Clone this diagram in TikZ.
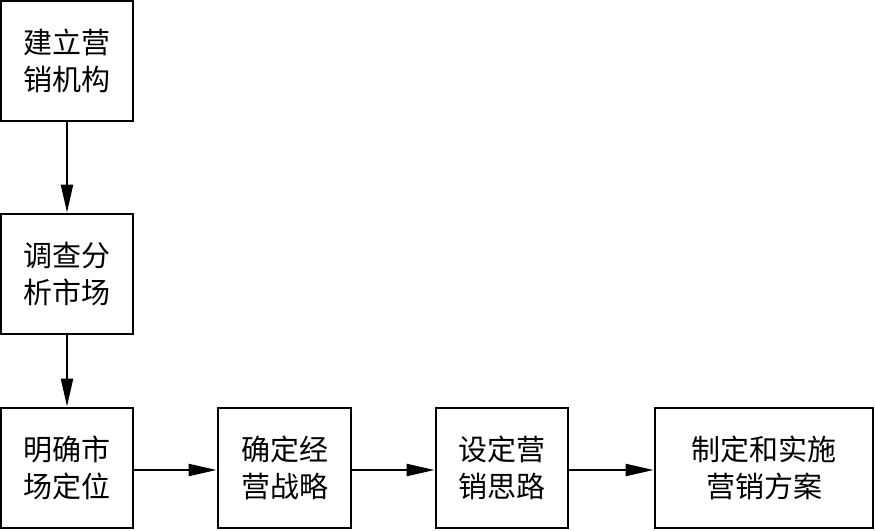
\documentclass[tikz,border=0pt]{standalone}
\usepackage{fontspec}
\newfontfamily\cjk{Noto Sans CJK SC}
\usetikzlibrary{arrows.meta}
\begin{document}
\begin{tikzpicture}[x=1pt,y=-1pt,
  box/.style={draw,line width=2.8pt,align=center,inner sep=0pt,
    font=\cjk\fontsize{29pt}{37pt}\selectfont},
  arr/.style={line width=2.2pt,-{Triangle[length=28pt,width=12pt]}}]
\useasboundingbox (0,0) rectangle (875,530);
\node[box,minimum width=132pt,minimum height=120pt] (a) at (67,61) {建立营\\销机构};
\node[box,minimum width=132pt,minimum height=120pt] (b) at (67,274) {调查分\\析市场};
\node[box,minimum width=132pt,minimum height=120pt] (c) at (67,468) {明确市\\场定位};
\node[box,minimum width=133pt,minimum height=120pt] (d) at (284.5,468) {确定经\\营战略};
\node[box,minimum width=132pt,minimum height=120pt] (e) at (502,468) {设定营\\销思路};
\node[box,minimum width=218pt,minimum height=120pt] (f) at (764,468) {制定和实施\\营销方案};
\draw[arr] (a) -- (b);
\draw[arr] (b) -- (c);
\draw[arr] (c.east|-0,470) -- (d.west|-0,470);
\draw[arr] (d.east|-0,470) -- (e.west|-0,470);
\draw[arr] (e.east|-0,470) -- (f.west|-0,470);
\end{tikzpicture}
\end{document}
